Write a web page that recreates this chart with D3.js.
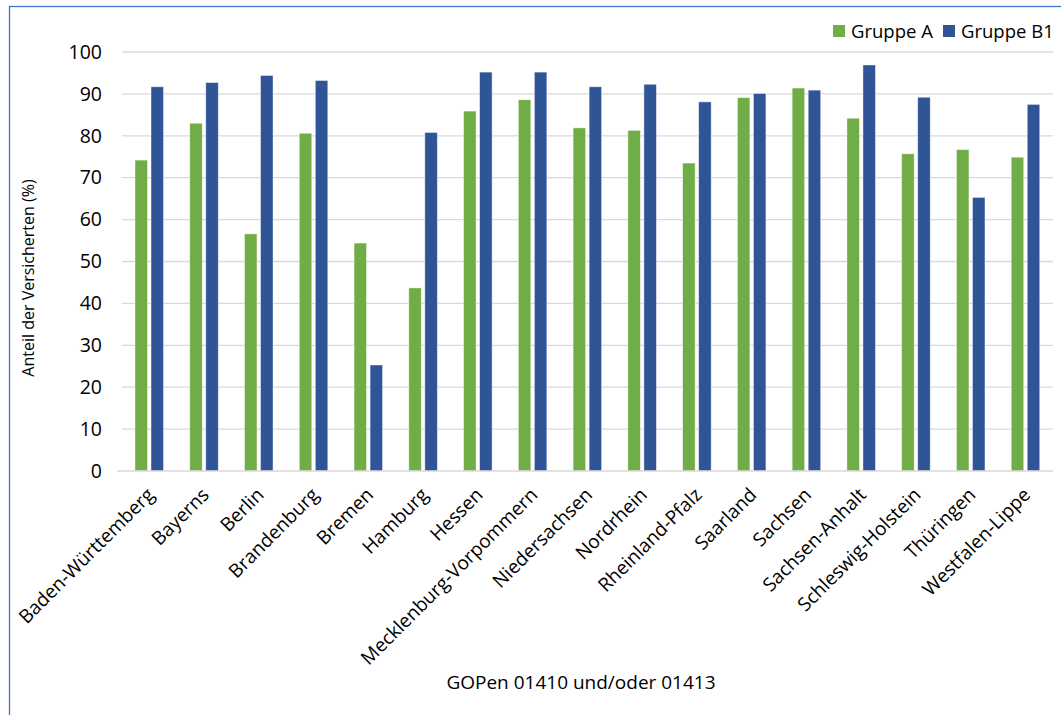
<!DOCTYPE html>
<html>
<head>
<meta charset="utf-8">
<script src="https://cdn.jsdelivr.net/npm/d3@7"></script>
<style>
  html, body { margin: 0; padding: 0; background: #fff; }
  svg { display: block; }
  text { font-family: "Open Sans", "Liberation Sans", sans-serif; fill: #000; }
</style>
</head>
<body>
<svg id="chart" width="1061" height="715"></svg>
<script>
// Bundesländer / KV-Regionen
const categories = [
  "Baden-Württemberg", "Bayerns", "Berlin", "Brandenburg", "Bremen", "Hamburg",
  "Hessen", "Mecklenburg-Vorpommern", "Niedersachsen", "Nordrhein",
  "Rheinland-Pfalz", "Saarland", "Sachsen", "Sachsen-Anhalt",
  "Schleswig-Holstein", "Thüringen", "Westfalen-Lippe"
];
const seriesNames = ["Gruppe A", "Gruppe B1"];
const gruppeA  = [74.2, 83.0, 56.6, 80.6, 54.4, 43.7, 85.9, 88.6, 81.9, 81.3, 73.5, 89.1, 91.4, 84.2, 75.7, 76.7, 74.9];
const gruppeB1 = [91.7, 92.7, 94.4, 93.2, 25.3, 80.8, 95.2, 95.2, 91.7, 92.3, 88.1, 90.1, 90.9, 96.9, 89.2, 65.3, 87.5];
const yTicks = [0, 10, 20, 30, 40, 50, 60, 70, 80, 90, 100];
const colors = ["#70AD47", "#2F5597"];

const svg = d3.select("#chart");
const W = 1061, H = 715;
const m = { left: 122, right: 8, top: 52, bottom: 244 };

// chart frame
svg.append("rect")
  .attr("x", 9.5).attr("y", 6.5)
  .attr("width", W + 20).attr("height", H + 20)
  .attr("fill", "none").attr("stroke", "#4472C4").attr("stroke-width", 1.3);

const x = d3.scaleBand().domain(categories).range([m.left, W - m.right]);
const bw = x.bandwidth();
const xs = d3.scaleBand().domain(seriesNames).range([bw * 0.237, bw * 0.758]).paddingInner(0.22);
const y = d3.scaleLinear().domain([0, 100]).range([H - m.bottom, m.top]);

// gridlines
svg.append("g")
  .selectAll("line").data(yTicks.filter(d => d > 0)).join("line")
  .attr("x1", m.left).attr("x2", W - m.right)
  .attr("y1", d => y(d)).attr("y2", d => y(d))
  .attr("stroke", "#D9D9D9").attr("stroke-width", 1.3);

// y axis labels
const yAxis = d3.axisLeft(y).tickValues(yTicks).tickSize(0).tickPadding(20);
const gy = svg.append("g").attr("transform", `translate(${m.left},0)`).call(yAxis);
gy.select(".domain").remove();
gy.selectAll("text").attr("font-size", 19.5).attr("font-family", "Open Sans, sans-serif").attr("fill", "#000");

// bars
const rows = categories.map((c, i) => ({ c, vals: [gruppeA[i], gruppeB1[i]] }));
const groups = svg.append("g").selectAll("g").data(rows).join("g")
  .attr("transform", d => `translate(${x(d.c)},0)`);
groups.selectAll("rect").data(d => d.vals.map((v, k) => ({ s: seriesNames[k], v, k }))).join("rect")
  .attr("x", d => xs(d.s))
  .attr("y", d => y(d.v))
  .attr("width", xs.bandwidth())
  .attr("height", d => y(0) - y(d.v))
  .attr("fill", d => colors[d.k])
  .attr("stroke", "#ffffff").attr("stroke-opacity", 0.55).attr("stroke-width", 0.8);

// x axis line
svg.append("line")
  .attr("x1", m.left - 5).attr("x2", W - m.right)
  .attr("y1", y(0)).attr("y2", y(0))
  .attr("stroke", "#D9D9D9").attr("stroke-width", 1.5);

// x axis labels
const xAxis = d3.axisBottom(x).tickSize(0).tickPadding(0);
const gx = svg.append("g").attr("transform", `translate(0,${y(0)})`).call(xAxis);
gx.select(".domain").remove();
gx.selectAll("text")
  .attr("font-size", 19).attr("font-family", "Open Sans, sans-serif").attr("fill", "#000")
  .attr("text-anchor", "end")
  .attr("dy", 0)
  .attr("transform", "translate(6,25) rotate(-45)");

// axis titles
svg.append("text")
  .attr("transform", `translate(34,${278}) rotate(-90)`)
  .attr("text-anchor", "middle")
  .attr("font-size", 16)
  .text("Anteil der Versicherten (%)");

svg.append("text")
  .attr("x", 581).attr("y", 689)
  .attr("text-anchor", "middle")
  .attr("font-size", 19)
  .text("GOPen 01410 und/oder 01413");

// legend
const legend = svg.append("g");
const legendItems = [{ n: seriesNames[0], x: 833 }, { n: seriesNames[1], x: 943 }];
legendItems.forEach((d, i) => {
  legend.append("rect").attr("x", d.x).attr("y", 25).attr("width", 12).attr("height", 12).attr("fill", colors[i]);
  legend.append("text").attr("x", d.x + 18).attr("y", 38).attr("font-size", 18.5).text(d.n);
});
</script>
</body>
</html>
